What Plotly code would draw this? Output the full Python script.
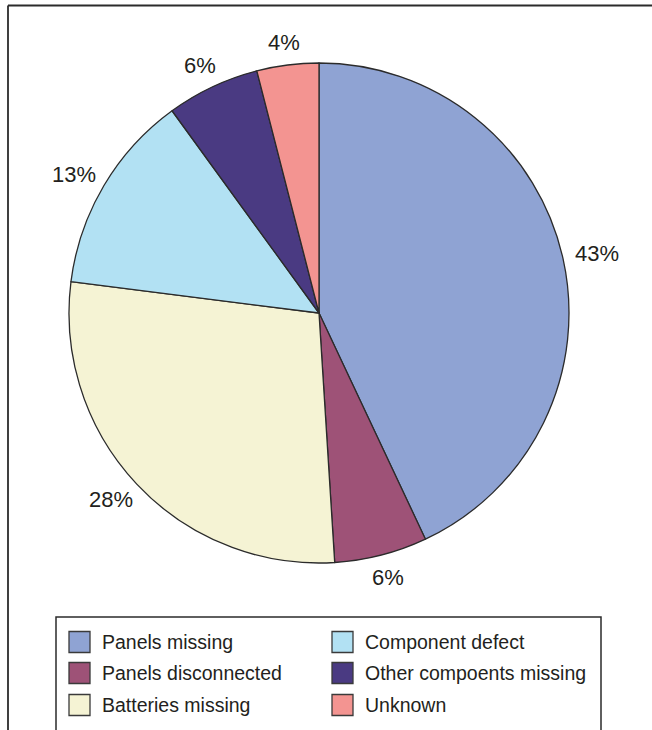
import math
import plotly.graph_objects as go

labels = ["Panels missing", "Panels disconnected", "Batteries missing",
          "Component defect", "Other compoents missing", "Unknown"]
values = [43, 6, 28, 13, 6, 4]
colors = ["#8FA3D3", "#9E5277", "#F5F3D4", "#B2E1F3", "#4A3A82", "#F39491"]

W, H = 652, 730
cx, cy, r = 319, 313, 250
FONT = "Liberation Sans, Arial, sans-serif"
TXT = "#231F20"
LBL_SIZE = 22

fig = go.Figure()
fig.add_trace(go.Pie(
    labels=labels, values=values, sort=False, direction="clockwise", rotation=0,
    marker=dict(colors=colors, line=dict(color="#2B2B2B", width=1.3)),
    textinfo="none",
    showlegend=False, hoverinfo="label+percent",
    domain=dict(x=[(cx - r) / W, (cx + r) / W], y=[(H - cy - r) / H, (H - cy + r) / H]),
))

shapes = []
annotations = []

# percentage labels placed radially outside each slice (computed from the values)
total = sum(values)
cum = 0
gap = 13
for v in values:
    mid = (cum + v / 2) / total * 2 * math.pi
    cum += v
    txt = f"{round(100 * v / total)}%"
    tw = (0.556 * (len(txt) - 1) + 0.889) * LBL_SIZE
    hw, hh = tw / 2, 10
    s, c = math.sin(mid), math.cos(mid)
    px = cx + (r + gap + hw) * s
    py = cy - (r + gap + hh) * c
    annotations.append(dict(xref="paper", yref="paper", x=px / W, y=1 - py / H,
                            xanchor="center", yanchor="middle", showarrow=False, text=txt,
                            font=dict(family=FONT, size=LBL_SIZE, color=TXT)))

line_col = "#2B2B2B"
# outer frame (top and left edges)
shapes.append(dict(type="line", xref="paper", yref="paper", x0=8 / W, x1=1, y0=1 - 5.5 / H, y1=1 - 5.5 / H,
                   line=dict(color=line_col, width=1.8)))
shapes.append(dict(type="line", xref="paper", yref="paper", x0=8 / W, x1=8 / W, y0=0, y1=1 - 5.5 / H,
                   line=dict(color=line_col, width=1.8)))
# legend box
shapes.append(dict(type="rect", xref="paper", yref="paper", x0=56 / W, x1=601 / W, y0=-0.05, y1=1 - 617 / H,
                   line=dict(color=line_col, width=1.5), fillcolor="rgba(0,0,0,0)"))
# legend entries (column-wise, 3 rows)
col_x = [69, 332]
row_y = [642, 673, 705]
sw = 21
for i, (lab, col) in enumerate(zip(labels, colors)):
    cc, rr = divmod(i, 3)
    x0 = col_x[cc]
    yc = row_y[rr]
    shapes.append(dict(type="rect", xref="paper", yref="paper",
                       x0=x0 / W, x1=(x0 + sw) / W, y0=1 - (yc + sw / 2) / H, y1=1 - (yc - sw / 2) / H,
                       line=dict(color="#3A3A3A", width=1.3), fillcolor=col))
    annotations.append(dict(xref="paper", yref="paper", x=(x0 + sw + 10) / W, y=1 - yc / H,
                            xanchor="left", yanchor="middle", showarrow=False, text=lab,
                            font=dict(family=FONT, size=19.5, color=TXT)))

fig.update_layout(
    width=W, height=H, margin=dict(l=0, r=0, t=0, b=0),
    paper_bgcolor="white", plot_bgcolor="white",
    shapes=shapes, annotations=annotations,
)
fig.write_html("out.html")
